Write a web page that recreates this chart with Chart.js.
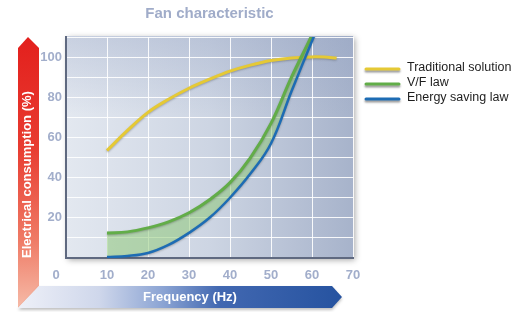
<!DOCTYPE html>
<html><head><meta charset="utf-8">
<script src="https://cdn.jsdelivr.net/npm/chart.js@4.4.1/dist/chart.umd.min.js"></script>
<style>html,body{margin:0;padding:0;background:#fff;}#wrap{width:531px;height:312px;position:relative;}</style>
</head><body><div id="wrap"><canvas id="c" width="531" height="312"></canvas></div>
<script>
const chartTitle = 'Fan characteristic';
const xAxisTitle = 'Frequency (Hz)';
const yAxisTitle = 'Electrical consumption (%)';
const seriesNames = ['Traditional solution', 'V/F law', 'Energy saving law'];
const traditionalHz = [10, 15, 20, 25, 30, 35, 40, 45, 50, 55, 60, 63, 66];
const traditionalPct = [53.5, 63.5, 72.5, 79, 84.5, 89, 93, 96, 98.3, 99.6, 100.1, 100, 99.5];
const vfHz = [10, 15, 20, 25, 30, 35, 40, 45, 50, 55, 60, 61];
const vfPct = [12.5, 13, 15, 18, 22.5, 29, 37.5, 50, 67, 90, 111, 116];
const energyHz = [10, 15, 20, 25, 30, 35, 40, 45, 50, 55, 60, 61];
const energyPct = [0.5, 1, 2.5, 6.5, 12.5, 20, 30, 42, 57, 83, 108, 113];
const xTickLabels = [10, 20, 30, 40, 50, 60, 70];
const yTickLabels = [20, 40, 60, 80, 100];
const cornerLabel = '0';

const FONT = "'Liberation Sans', Arial, sans-serif";
const TICK_COLOR = '#a2aecb';

function pts(xs, ys) { return xs.map((x, i) => ({x: x, y: ys[i]})); }

const deco = {
  id: 'deco',
  beforeDraw(chart) {
    const ctx = chart.ctx, a = chart.chartArea;
    ctx.save();
    let g = ctx.createLinearGradient(0, 38, 0, 308);
    g.addColorStop(0, '#e3201d'); g.addColorStop(0.4, '#e83b30');
    g.addColorStop(0.75, '#ef7b66'); g.addColorStop(1, '#f6bba8');
    ctx.beginPath();
    ctx.moveTo(28, 37); ctx.lineTo(39, 48); ctx.lineTo(39, 286); ctx.lineTo(18, 308); ctx.lineTo(18, 48); ctx.closePath();
    ctx.fillStyle = g; ctx.fill();
    ctx.shadowColor = 'rgba(0,0,0,0.25)'; ctx.shadowBlur = 3; ctx.shadowOffsetY = 2;
    g = ctx.createLinearGradient(18, 0, 342, 0);
    g.addColorStop(0, '#eef0f8'); g.addColorStop(0.25, '#cfd7eb'); g.addColorStop(0.45, '#8aa3d3');
    g.addColorStop(0.62, '#4268b1'); g.addColorStop(1, '#2653a0');
    ctx.beginPath();
    ctx.moveTo(39, 286); ctx.lineTo(332, 286); ctx.lineTo(342, 297); ctx.lineTo(332, 308); ctx.lineTo(18, 308); ctx.closePath();
    ctx.fillStyle = g; ctx.fill();
    ctx.restore();
    ctx.save();
    ctx.shadowColor = 'rgba(0,0,0,0.35)'; ctx.shadowBlur = 6; ctx.shadowOffsetX = 2; ctx.shadowOffsetY = 2;
    g = ctx.createLinearGradient(a.left, 0, a.right, 0);
    g.addColorStop(0, '#e3e8f0'); g.addColorStop(0.5, '#cdd5e3'); g.addColorStop(1, '#a7b3cb');
    ctx.fillStyle = g;
    ctx.fillRect(a.left, a.top - 1, a.right - a.left, a.bottom - a.top + 1);
    ctx.restore();
    ctx.save();
    g = ctx.createLinearGradient(0, a.top, 0, a.bottom);
    g.addColorStop(0, 'rgba(140,155,190,0.30)'); g.addColorStop(0.35, 'rgba(140,155,190,0)');
    ctx.fillStyle = g;
    ctx.fillRect(a.left, a.top - 1, a.right - a.left, a.bottom - a.top + 1);
    ctx.restore();
  },
  beforeDatasetDraw(chart) {
    chart.ctx.save();
    chart.ctx.shadowColor = 'rgba(60,60,60,0.35)';
    chart.ctx.shadowBlur = 2; chart.ctx.shadowOffsetY = 1;
  },
  afterDatasetDraw(chart) { chart.ctx.restore(); },
  afterDraw(chart) {
    const ctx = chart.ctx, a = chart.chartArea;
    ctx.save();
    ctx.font = 'bold 13px ' + FONT; ctx.fillStyle = TICK_COLOR;
    ctx.textAlign = 'center'; ctx.textBaseline = 'middle';
    ctx.fillText(cornerLabel, a.left - 10, 275);
    ctx.fillStyle = '#ffffff'; ctx.font = 'bold 13px ' + FONT;
    ctx.fillText(xAxisTitle, 190, 297);
    const ys = [68, 83, 98];
    chart.data.datasets.forEach((ds, i) => {
      ctx.save();
      ctx.shadowColor = 'rgba(0,0,0,0.4)'; ctx.shadowBlur = 2; ctx.shadowOffsetY = 2;
      ctx.strokeStyle = ds.borderColor; ctx.lineWidth = 3; ctx.lineCap = 'round';
      ctx.beginPath(); ctx.moveTo(366, ys[i] + 1); ctx.lineTo(399, ys[i] + 1); ctx.stroke();
      ctx.restore();
      ctx.fillStyle = '#1e1e1e'; ctx.font = '12.5px ' + FONT;
      ctx.textAlign = 'left'; ctx.textBaseline = 'middle';
      ctx.fillText(ds.label, 407, ys[i]);
    });
    ctx.restore();
  }
};

new Chart(document.getElementById('c'), {
  type: 'line',
  data: {
    datasets: [
      { label: seriesNames[0], data: pts(traditionalHz, traditionalPct), borderColor: '#e5c935',
        borderWidth: 3, pointRadius: 0, tension: 0.4, fill: false, order: 3 },
      { label: seriesNames[1], data: pts(vfHz, vfPct), borderColor: '#62ad48',
        backgroundColor: 'rgba(135,198,110,0.5)', borderWidth: 3, pointRadius: 0,
        tension: 0.4, fill: '+1', order: 2 },
      { label: seriesNames[2], data: pts(energyHz, energyPct), borderColor: '#1d6cb4',
        borderWidth: 2.5, pointRadius: 0, tension: 0.4, fill: false, order: 1 }
    ]
  },
  options: {
    responsive: false, animation: false, devicePixelRatio: 1,
    layout: { padding: { left: 0, right: 178, top: 0, bottom: 0 } },
    plugins: {
      legend: { display: false },
      tooltip: { enabled: false },
      title: { display: true, text: chartTitle, fullSize: false, color: '#a0acc9',
        font: { family: FONT, size: 15, weight: 'bold', lineHeight: 1.2 },
        padding: { top: 5, bottom: 14 } }
    },
    scales: {
      x: {
        type: 'linear', min: 0, max: 70,
        afterFit(s) { s.height = 54; },
        border: { display: true, color: '#5f6980', width: 2 },
        grid: { color: 'rgba(255,255,255,0.9)', lineWidth: 1, drawTicks: false },
        ticks: { stepSize: 10, padding: 10, color: TICK_COLOR, font: { family: FONT, size: 13, weight: 'bold' },
          callback: v => xTickLabels.includes(v) ? String(v) : '' }
      },
      y: {
        type: 'linear', min: 0, max: 110,
        afterFit(s) { s.width = 66; },
        border: { display: true, color: '#5f6980', width: 2 },
        grid: { color: 'rgba(255,255,255,0.9)', lineWidth: 1, drawTicks: false },
        ticks: { stepSize: 10, padding: 4, color: TICK_COLOR, font: { family: FONT, size: 13, weight: 'bold' },
          callback: v => yTickLabels.includes(v) ? String(v) : '' },
        title: { display: true, text: yAxisTitle, align: 'start', color: '#ffffff',
          font: { family: FONT, size: 13, weight: 'bold', lineHeight: 1.2 }, padding: { top: 20, bottom: 0 } }
      }
    }
  },
  plugins: [deco]
});
</script></body></html>
